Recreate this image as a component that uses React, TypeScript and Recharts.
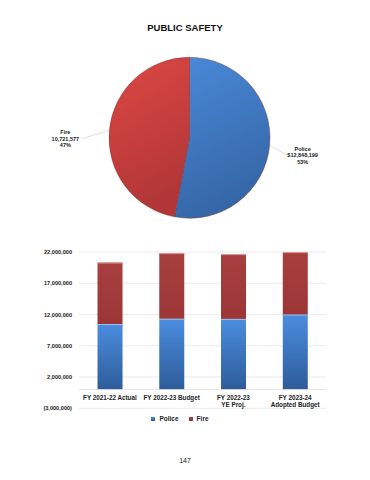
import { PieChart, Pie, Cell, BarChart, Bar, XAxis, YAxis, CartesianGrid, Legend, ReferenceLine } from "recharts";

const pieNames = ["Police", "Fire"];
const pieAmounts = ["$12,848,199", "10,721,577"];
const pieShares = [53, 47];

const categories = ["FY 2021-22 Actual", "FY 2022-23 Budget", "FY 2022-23\nYE Proj.", "FY 2023-24\nAdopted Budget"];
const policeValues = [10480000, 11330000, 11300000, 12010000];
const fireValues = [9840000, 10490000, 10360000, 9970000];
const yTicks = [-3000000, 2000000, 7000000, 12000000, 17000000, 22000000];
const legendOrder = ["Police", "Fire"];

const FONT = '"Liberation Sans", Arial, sans-serif';

const pieData = pieNames.map((name, i) => ({ name, share: pieShares[i], amount: pieAmounts[i] }));
const barData = categories.map((c, i) => ({ name: c, Police: policeValues[i], Fire: fireValues[i] }));

const fmtTick = (v: number) => (v < 0 ? `(${Math.abs(v).toLocaleString("en-US")})` : v.toLocaleString("en-US"));

const renderPieLabel = (props: any) => {
  const { cx, cy, midAngle, outerRadius, index } = props;
  const rad = Math.PI / 180;
  const cos = Math.cos(-midAngle * rad);
  const sin = Math.sin(-midAngle * rad);
  const x0 = cx + outerRadius * cos;
  const y0 = cy + outerRadius * sin;
  const right = cos >= 0;
  const x1 = x0 + (right ? 18 : -27);
  const y1 = y0 + (right ? 10 : 8.5);
  const tx = x1 + (right ? 15 : -17);
  const d = pieData[index];
  return (
    <g>
      <polyline points={`${x0},${y0} ${x1},${y1}`} stroke="#c8c8c8" strokeWidth={0.6} fill="none" />
      <text x={tx} y={y1} textAnchor="middle" fontFamily={FONT} fontSize={5.5} fontWeight="bold" fill="#222">
        <tspan x={tx} dy={-6.3 + 2}>{d.name}</tspan>
        <tspan x={tx} dy={6.3}>{d.amount}</tspan>
        <tspan x={tx} dy={6.3}>{d.share}%</tspan>
      </text>
    </g>
  );
};

const CategoryTick = (props: any) => {
  const { x, y, payload } = props;
  const lines = String(payload.value).split("\n");
  return (
    <text x={x} y={y - 16} textAnchor="middle" fontFamily={FONT} fontSize={6.3} fontWeight="bold" fill="#222">
      {lines.map((l, i) => (
        <tspan key={i} x={x} dy={i === 0 ? 0 : 6.6}>{l}</tspan>
      ))}
    </text>
  );
};

const SegmentShape = (props: any) => {
  const { x, y, width, height, fill, highlight } = props;
  if (!height || height <= 0) return null;
  return (
    <g>
      <rect x={x} y={y} width={width} height={height} fill={fill} />
      <rect x={x} y={y} width={width} height={1} fill={highlight} />
    </g>
  );
};

export default function App() {
  return (
    <div style={{ position: "absolute", left: 0, top: 0, width: 370, height: 480, background: "#fff", fontFamily: FONT }}>
      <div style={{ position: "absolute", top: 22, left: 0, width: 370, textAlign: "center", fontSize: 9.5, fontWeight: "bold", color: "#111" }}>
        PUBLIC SAFETY
      </div>
      <div style={{ position: "absolute", top: 0, left: 0 }}>
        <PieChart width={370} height={240} margin={{ top: 0, right: 0, bottom: 0, left: 0 }}>
          <defs>
            <linearGradient id="pPolice" x1="0" y1="0" x2="0.3" y2="1">
              <stop offset="0%" stopColor="#4a8ad9" />
              <stop offset="100%" stopColor="#3566a6" />
            </linearGradient>
            <linearGradient id="pFire" x1="0" y1="0" x2="0.3" y2="1">
              <stop offset="0%" stopColor="#dc4844" />
              <stop offset="100%" stopColor="#b23637" />
            </linearGradient>
          </defs>
          <Pie
            data={pieData}
            dataKey="share"
            nameKey="name"
            cx={189.5}
            cy={137.8}
            outerRadius={80.5}
            startAngle={90}
            endAngle={-270}
            stroke="#7a3030"
            strokeWidth={0.4}
            label={renderPieLabel}
            labelLine={false}
            isAnimationActive={false}
          >
            <Cell fill="url(#pPolice)" />
            <Cell fill="url(#pFire)" />
          </Pie>
        </PieChart>
      </div>
      <div style={{ position: "absolute", top: 240, left: 0 }}>
        <BarChart width={370} height={200} data={barData} margin={{ top: 12, right: 44, left: 19, bottom: 11 }} barCategoryGap="30%">
          <defs>
            <linearGradient id="gPolice" x1="0" y1="0" x2="0" y2="1">
              <stop offset="0%" stopColor="#4b8ddf" />
              <stop offset="100%" stopColor="#2d5c99" />
            </linearGradient>
            <linearGradient id="gFire" x1="0" y1="0" x2="0" y2="1">
              <stop offset="0%" stopColor="#a83f3f" />
              <stop offset="100%" stopColor="#9c3636" />
            </linearGradient>
          </defs>
          <CartesianGrid vertical={false} stroke="#e6e6e6" strokeWidth={0.8} />
          <XAxis dataKey="name" height={6.7} axisLine={false} tickLine={false} tick={<CategoryTick />} interval={0} />
          <YAxis
            domain={[-3000000, 22000000]}
            ticks={yTicks}
            allowDataOverflow
            width={60}
            axisLine={false}
            tickLine={false}
            tickSize={0}
            tickMargin={7}
            tickFormatter={fmtTick}
            tick={{ fontFamily: FONT, fontSize: 5.6, fontWeight: "bold", fill: "#222" }}
          />
          <ReferenceLine y={0} stroke="#e0e0e0" strokeWidth={0.8} />
          <Legend
            verticalAlign="bottom"
            height={14}
            iconType="square"
            iconSize={4}
            itemSorter={(item: any) => legendOrder.indexOf(item.value)}
            wrapperStyle={{ fontFamily: FONT, fontSize: 6.5, fontWeight: "bold", color: "#222", left: 0, width: 370 }}
            formatter={(v: string) => <span style={{ color: "#222" }}>{v}</span>}
          />
          <Bar dataKey="Police" stackId="a" fill="url(#gPolice)" shape={<SegmentShape highlight="#9cc3f0" />} isAnimationActive={false} />
          <Bar dataKey="Fire" stackId="a" fill="url(#gFire)" shape={<SegmentShape highlight="#e39a9a" />} isAnimationActive={false} />
        </BarChart>
      </div>
      <div style={{ position: "absolute", top: 457, left: 0, width: 370, textAlign: "center", fontSize: 7, color: "#222" }}>
        147
      </div>
    </div>
  );
}
